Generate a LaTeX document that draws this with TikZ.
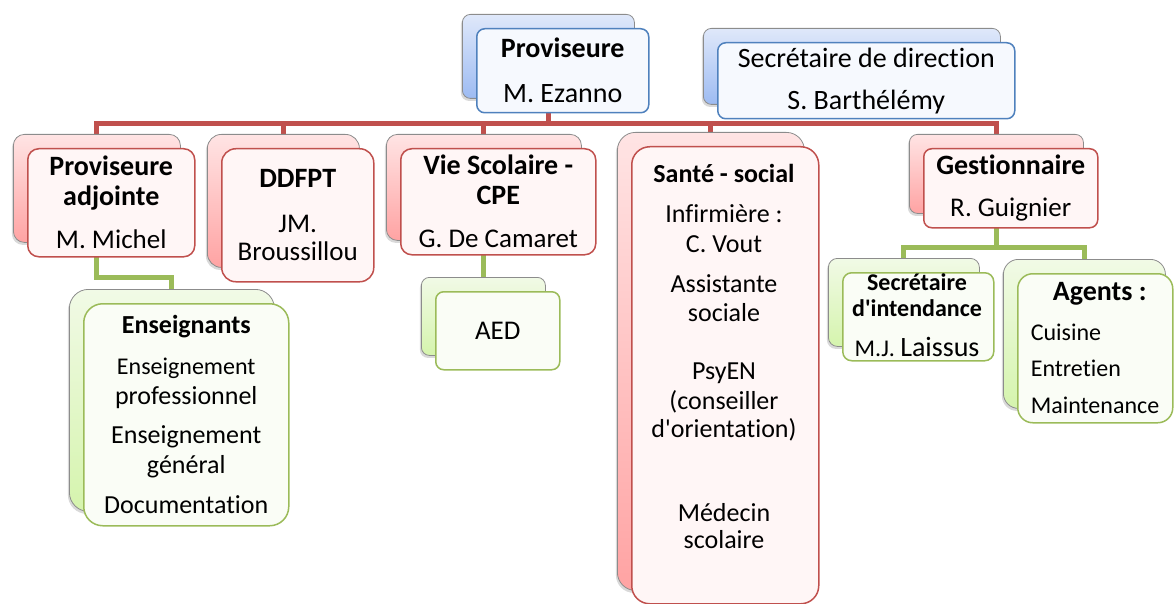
\documentclass[tikz,border=0pt]{standalone}
\usepackage{fontspec}
\newfontfamily\calib{Carlito}[Ligatures={CommonOff,ContextualOff}]
\usetikzlibrary{shadows}
\definecolor{bdBlue}{HTML}{4F81BD}
\definecolor{bdRed}{HTML}{C0504D}
\definecolor{bdGreen}{HTML}{9BBB59}
\definecolor{bkBlueT}{HTML}{DFE8FA}
\definecolor{bkBlueB}{HTML}{9DBBF2}
\definecolor{bkRedT}{HTML}{FFE4E4}
\definecolor{bkRedB}{HTML}{FFA3A3}
\definecolor{bkGreenT}{HTML}{F1FAE6}
\definecolor{bkGreenB}{HTML}{D5F4AD}
\definecolor{frBlue}{HTML}{F6F9FE}
\definecolor{frRed}{HTML}{FFF6F6}
\definecolor{frGreen}{HTML}{FAFDF6}
\definecolor{bkLine}{HTML}{8C8C8C}
\pgfdeclarelayer{bg}
\pgfsetlayers{bg,main}
\newcommand\orgT[1]{{\fontsize{28}{29}\selectfont\bfseries #1}}
\tikzset{
  box/.style={rectangle, inner sep=0pt, anchor=north west},
  backbox/.style={box, draw=bkLine, line width=0.8pt,
    drop shadow={shadow xshift=-1.5pt, shadow yshift=-2.5pt, opacity=0.3}},
  bBlue/.style={backbox, top color=bkBlueT, bottom color=bkBlueB},
  bRed/.style={backbox, top color=bkRedT, bottom color=bkRedB},
  bGreen/.style={backbox, top color=bkGreenT, bottom color=bkGreenB},
  frontbox/.style={box, line width=1.5pt},
  fBlue/.style={frontbox, draw=bdBlue, fill=frBlue},
  fRed/.style={frontbox, draw=bdRed, fill=frRed},
  fGreen/.style={frontbox, draw=bdGreen, fill=frGreen},
  txt/.style={inner sep=0pt, align=center, text=black},
  txtA/.style={txt, font=\calib\fontsize{28}{29}\selectfont},
  txtB/.style={txt, font=\calib\fontsize{27}{29}\selectfont},
  txtC/.style={txt, font=\calib\fontsize{26}{28}\selectfont},
  txtD/.style={txt, font=\calib\fontsize{24}{26}\selectfont},
  conRed/.style={draw=bdRed, line width=5pt},
  conGreen/.style={draw=bdGreen, line width=5pt},
}
\begin{document}
\begin{tikzpicture}[x=1pt, y=-1pt]
\useasboundingbox (0,0) rectangle (1174,604);

% Proviseure
\node[bBlue, rounded corners=8pt, minimum width=172pt, minimum height=84pt] (provB) at (462,14) {};
\node[fBlue, rounded corners=8pt, minimum width=172pt, minimum height=84pt] (provF) at (476,28) {};
\node[txtA] (provT) at (provF.center) {\textbf{Proviseure}\\[16pt]M. Ezanno};

% Secretaire de direction
\node[bBlue, rounded corners=8pt, minimum width=297pt, minimum height=76pt] (secB) at (703,28) {};
\node[fBlue, rounded corners=8pt, minimum width=297pt, minimum height=76pt] (secF) at (717,42) {};
\node[txtA] (secT) at (secF.center) {Secrétaire de direction\\[13pt]S. Barthélémy};

% Proviseure adjointe
\node[bRed, rounded corners=11pt, minimum width=167pt, minimum height=108pt] (paB) at (13,134) {};
\node[fRed, rounded corners=11pt, minimum width=167pt, minimum height=108pt] (paF) at (27,148) {};
\node[txtB] (paT) at (paF.center) {\orgT{Proviseure}\\[1pt]\orgT{adjointe}\\[14pt]M. Michel};

% DDFPT
\node[bRed, rounded corners=14pt, minimum width=152pt, minimum height=133pt] (ddB) at (207,134) {};
\node[fRed, rounded corners=14pt, minimum width=152pt, minimum height=133pt] (ddF) at (221,148) {};
\node[txtB] (ddT) at (ddF.center) {\orgT{DDFPT}\\[16pt]JM.\\[-1pt]Broussillou};

% Vie scolaire
\node[bRed, rounded corners=11pt, minimum width=195pt, minimum height=106pt] (vsB) at (386,134) {};
\node[fRed, rounded corners=11pt, minimum width=195pt, minimum height=106pt] (vsF) at (400,148) {};
\node[txtB] (vsT) at (vsF.center) {\orgT{Vie Scolaire -}\\[1pt]\orgT{CPE}\\[14pt]G. De Camaret};

% Sante - social
\node[bRed, rounded corners=18pt, minimum width=187pt, minimum height=458pt] (saB) at (617,132) {};
\node[fRed, rounded corners=18pt, minimum width=187pt, minimum height=457pt] (saF) at (631,146) {};
\node[txtC] (saT) at (724,356) {\textbf{Santé - social}\\[12pt]Infirmière :\\[2pt]C. Vout\\[12pt]Assistante\\[1pt]sociale\\[30pt]PsyEN\\[2pt](conseiller\\[0pt]d'orientation)\\[56pt]Médecin\\[-1pt]scolaire};

% Gestionnaire
\node[bRed, rounded corners=8pt, minimum width=174pt, minimum height=79pt] (geB) at (909,134) {};
\node[fRed, rounded corners=8pt, minimum width=174pt, minimum height=79pt] (geF) at (923,148) {};
\node[txtB] (geT) at (geF.center) {\orgT{Gestionnaire}\\[13pt]R. Guignier};

% Enseignants
\node[bGreen, rounded corners=19pt, minimum width=205pt, minimum height=222pt] (enB) at (69,289) {};
\node[fGreen, rounded corners=19pt, minimum width=205pt, minimum height=222pt] (enF) at (83,303) {};
\node[txtC] (enT) at (enF.center) {\textbf{Enseignants}\\[13pt]{\fontsize{24}{28}\selectfont Enseignement}\\[2pt]professionnel\\[11pt]Enseignement\\[2pt]général\\[12pt]Documentation};

% AED
\node[bGreen, rounded corners=8pt, minimum width=124pt, minimum height=78pt] (aeB) at (421,277) {};
\node[fGreen, rounded corners=8pt, minimum width=124pt, minimum height=78pt] (aeF) at (435,291) {};
\node[txtB] (aeT) at (aeF.center) {AED};

% Secretaire d'intendance
\node[bGreen, rounded corners=9pt, minimum width=151pt, minimum height=88pt] (siB) at (828,258) {};
\node[fGreen, rounded corners=9pt, minimum width=151pt, minimum height=88pt] (siF) at (842,272) {};
\node[txtD] (siT) at (917,315) {\textbf{Secrétaire}\\[0pt]\textbf{d'intendance}\\[14pt]M.J. {\fontsize{28}{26}\selectfont Laissus}};

% Agents
\node[bGreen, rounded corners=15pt, minimum width=162pt, minimum height=149pt] (agB) at (1003,259) {};
\node[fGreen, rounded corners=15pt, minimum width=155pt, minimum height=149pt] (agF) at (1017,273) {};
\node[txt, align=left, font=\calib\fontsize{24}{28}\selectfont] (agT) at (1095,348) {\hspace*{22pt}{\fontsize{28}{28}\selectfont\bfseries Agents :}\\[12pt]Cuisine\\[8pt]Entretien\\[9pt]Maintenance};

\begin{pgfonlayer}{bg}
  \path (provB.south) ++(0,25) coordinate (bus);
  \draw[conRed] (provB.south) -- (bus);
  \draw[conRed] (bus) -| (paB.north);
  \draw[conRed] (bus) -| (ddB.north);
  \draw[conRed] (bus) -| (vsB.north);
  \draw[conRed] (bus) -| (saB.north);
  \draw[conRed] (bus) -| (geB.north);
  \path (paB.south) ++(0,35) coordinate (gA);
  \draw[conGreen] (paB.south) -- (gA) -| (enB.north);
  \draw[conGreen] (vsB.south) -- (vsB.south |- aeB.north);
  \path (geB.south) ++(0,34) coordinate (gB);
  \draw[conGreen] (geB.south) -- (gB);
  \draw[conGreen] (gB) -| (siB.north);
  \draw[conGreen] (gB) -| (agB.north);
\end{pgfonlayer}
\end{tikzpicture}
\end{document}
